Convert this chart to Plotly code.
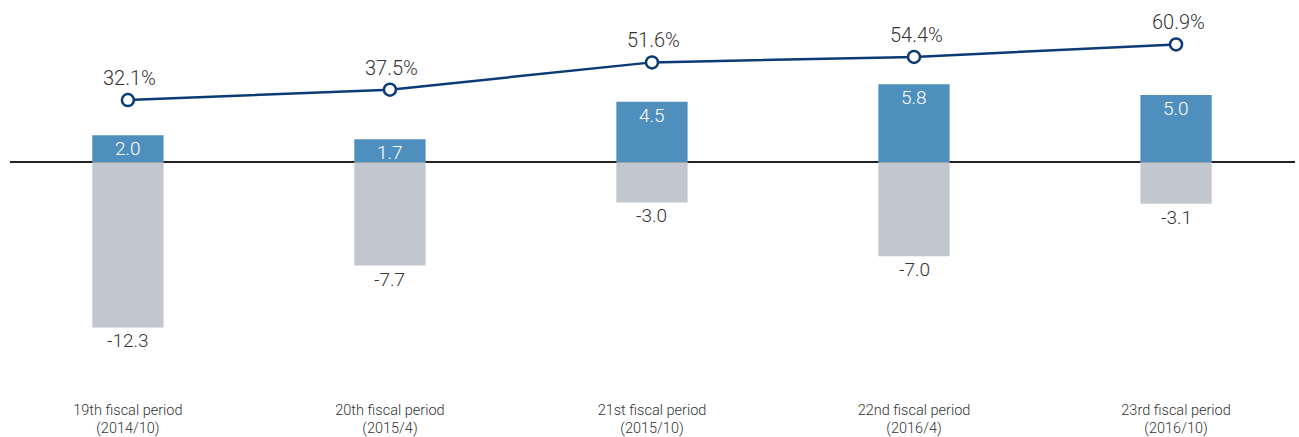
import plotly.graph_objects as go

# Fiscal periods and their figures
categories = [
    "19th fiscal period<br>(2014/10)",
    "20th fiscal period<br>(2015/4)",
    "21st fiscal period<br>(2015/10)",
    "22nd fiscal period<br>(2016/4)",
    "23rd fiscal period<br>(2016/10)",
]
positive_values = [2.0, 1.7, 4.5, 5.8, 5.0]
negative_values = [-12.3, -7.7, -3.0, -7.0, -3.1]
ratio_values = [32.1, 37.5, 51.6, 54.4, 60.9]

BLUE = "#4f8fbe"
GREY = "#c1c6cf"
NAVY = "#0b3b74"
TEXT = "#333333"
FONT = "Roboto"
WEIGHT = 300

W, H = 1299, 437
MARGIN_T, MARGIN_B = 0, 36
ZERO_PX = 163          # vertical position of the zero line
PX_PER_UNIT = 13.5     # bar axis scale
PX_PER_PCT = 1.944     # ratio axis scale

plot_h = H - MARGIN_T - MARGIN_B
y1_range = [-(plot_h - ZERO_PX) / PX_PER_UNIT, ZERO_PX / PX_PER_UNIT]
y2_range = [-(plot_h - ZERO_PX) / PX_PER_PCT, ZERO_PX / PX_PER_PCT]

xs = list(range(len(categories)))

fig = go.Figure()
fig.add_trace(go.Bar(x=xs, y=positive_values, marker_color=BLUE, width=0.272,
                     marker_line_width=0, hoverinfo="y"))
fig.add_trace(go.Bar(x=xs, y=negative_values, marker_color=GREY, width=0.272,
                     marker_line_width=0, hoverinfo="y"))
fig.add_trace(go.Scatter(
    x=xs, y=ratio_values, yaxis="y2", mode="lines+markers",
    line=dict(color=NAVY, width=2.5),
    marker=dict(size=12, color="white", line=dict(color=NAVY, width=2.5)),
    hoverinfo="y",
))

annotations = []
for x, v in zip(xs, positive_values):
    annotations.append(dict(x=x, y=v, xref="x", yref="y", text=f"{v:.1f}",
                            showarrow=False, yanchor="top", yshift=0,
                            font=dict(family=FONT, size=19, color="white",
                                      weight=WEIGHT)))
for x, v in zip(xs, negative_values):
    annotations.append(dict(x=x, y=v, xref="x", yref="y", text=f"{v:.1f}",
                            showarrow=False, yanchor="top", yshift=0,
                            font=dict(family=FONT, size=19, color=TEXT,
                                      weight=WEIGHT)))
for x, v in zip(xs, ratio_values):
    annotations.append(dict(x=x, y=v, xref="x", yref="y2", text=f"{v:.1f}%",
                            showarrow=False, yanchor="bottom", yshift=8,
                            xshift=2,
                            font=dict(family=FONT, size=20, color=TEXT,
                                      weight=WEIGHT)))

fig.update_layout(
    width=W, height=H,
    margin=dict(l=10, r=4, t=MARGIN_T, b=MARGIN_B),
    barmode="overlay",
    showlegend=False,
    plot_bgcolor="white", paper_bgcolor="white",
    font=dict(family=FONT, color=TEXT, weight=WEIGHT),
    xaxis=dict(range=[-0.45, 4.454], tickvals=xs, ticktext=categories,
               showgrid=False, zeroline=False, showline=False, ticks="",
               tickfont=dict(family=FONT, size=14.5, color=TEXT,
                             weight=WEIGHT)),
    yaxis=dict(range=y1_range, showgrid=False, showticklabels=False,
               zeroline=True, zerolinecolor="#222222", zerolinewidth=1.5),
    yaxis2=dict(range=y2_range, overlaying="y", showgrid=False,
                showticklabels=False, zeroline=False),
    annotations=annotations,
)

fig.write_html("out.html")
